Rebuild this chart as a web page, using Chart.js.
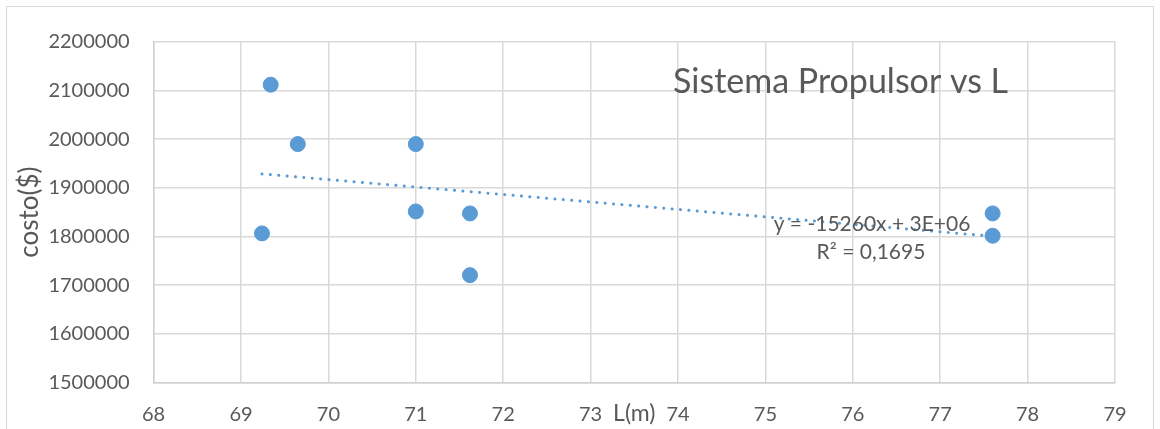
<!DOCTYPE html>
<html>
<head>
<meta charset="utf-8">
<script src="https://cdn.jsdelivr.net/npm/chart.js@4.4.1/dist/chart.umd.min.js"></script>
<style>
  html, body { margin: 0; padding: 0; background: #fff; }
  #wrap { position: relative; width: 1160px; height: 429px; }
</style>
</head>
<body>
<div id="wrap"><canvas id="chart" width="1160" height="429"></canvas></div>
<script>
// values
const lengths = [69.34, 69.65, 69.24, 71.0, 71.0, 71.62, 71.62, 77.6, 77.6];
const costs = [2111500, 1989700, 1806400, 1989700, 1851500, 1847400, 1720700, 1847400, 1801600];

const chartTitle = 'Sistema Propulsor vs L';
const xTitle = 'L(m)';
const yTitle = 'costo($)';
const eqLines = ['y = -15260x + 3E+06', 'R² = 0,1695'];

const blue = '#5b9bd5';
const textGray = '#595959';
const gridGray = '#d9d9d9';
const font = 'Lato, "Open Sans", sans-serif';

const points = lengths.map((x, i) => ({ x: x, y: costs[i] }));

// linear least squares trendline, like excel does
function trend(xs, ys) {
  const n = xs.length;
  const mx = xs.reduce((a, b) => a + b, 0) / n;
  const my = ys.reduce((a, b) => a + b, 0) / n;
  let num = 0, den = 0;
  for (let i = 0; i < n; i++) {
    num += (xs[i] - mx) * (ys[i] - my);
    den += (xs[i] - mx) * (xs[i] - mx);
  }
  const m = num / den;
  const b = my - m * mx;
  const x0 = Math.min(...xs), x1 = Math.max(...xs);
  return [{ x: x0, y: m * x0 + b }, { x: x1, y: m * x1 + b }];
}
const trendPoints = trend(lengths, costs);

const extras = {
  id: 'extras',
  beforeDraw(chart) {
    const c = chart.ctx;
    c.save();
    c.fillStyle = '#fff';
    c.fillRect(0, 0, chart.width, chart.height);
    c.strokeStyle = gridGray;
    c.lineWidth = 1;
    c.strokeRect(6.5, 6.5, 1147, 500);
    c.restore();
  },
  afterDraw(chart) {
    const c = chart.ctx;
    const area = chart.chartArea;
    const xs = chart.scales.x;
    c.save();
    c.fillStyle = textGray;

    // title sits inside the plot
    c.font = '34px ' + font;
    c.textAlign = 'left';
    c.textBaseline = 'alphabetic';
    c.fillText(chartTitle, 673, 93);

    // equation label
    c.font = '21px ' + font;
    c.textAlign = 'center';
    c.fillText(eqLines[0], 872, 231);
    c.fillText(eqLines[1], 871, 259);

    // x title between 73 and 74
    c.font = '23px ' + font;
    c.fillText(xTitle, xs.getPixelForValue(73.5), 421);

    // y title
    c.font = '26px ' + font;
    c.translate(30, (area.top + area.bottom) / 2);
    c.rotate(-Math.PI / 2);
    c.textBaseline = 'middle';
    c.fillText(yTitle, 0, 0);
    c.restore();
  }
};

new Chart(document.getElementById('chart'), {
  type: 'scatter',
  data: {
    datasets: [
      {
        label: 'costo',
        data: points,
        backgroundColor: blue,
        borderColor: blue,
        pointRadius: 7.5,
        pointHoverRadius: 7.5,
        order: 1
      },
      {
        label: 'trend',
        type: 'line',
        data: trendPoints,
        borderColor: blue,
        borderWidth: 3,
        borderDash: [0.1, 8.3],
        borderCapStyle: 'round',
        pointRadius: 0,
        fill: false,
        order: 2
      }
    ]
  },
  options: {
    responsive: false,
    animation: false,
    events: [],
    layout: { padding: { top: 41.6, right: 45, bottom: 0, left: 0 } },
    plugins: {
      legend: { display: false },
      tooltip: { enabled: false },
      title: { display: false }
    },
    scales: {
      x: {
        type: 'linear',
        min: 68,
        max: 79,
        afterFit(scale) { scale.height = 46.3; },
        ticks: {
          stepSize: 1,
          padding: 20,
          color: textGray,
          font: { family: font, size: 20 }
        },
        grid: { color: gridGray, lineWidth: 1.5, drawTicks: false },
        border: { color: '#d0d0d0', width: 1.5 }
      },
      y: {
        min: 1500000,
        max: 2200000,
        afterFit(scale) { scale.width = 153.6; },
        ticks: {
          stepSize: 100000,
          padding: 24,
          color: textGray,
          font: { family: font, size: 20 },
          callback: v => String(v)
        },
        grid: { color: gridGray, lineWidth: 1.5, drawTicks: false },
        border: { color: '#d0d0d0', width: 1.5 }
      }
    }
  },
  plugins: [extras]
});
</script>
</body>
</html>
